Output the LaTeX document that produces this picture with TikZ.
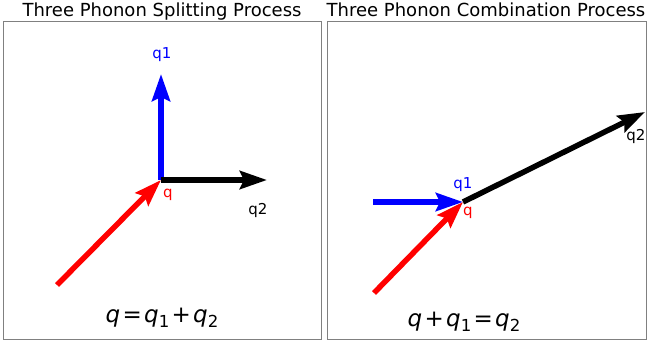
\documentclass[tikz,border=0pt]{standalone}
\usepackage{fontspec}
\setmainfont{DejaVu Sans}
\usepackage{graphicx}
\usetikzlibrary{arrows.meta}
\newcommand{\qvec}[1]{\textit{q}\raisebox{-0.22em}{\scalebox{0.72}{#1}}}
\newcommand{\op}[1]{\hspace{0.1em}#1\hspace{0.1em}}

\begin{document}
\begin{tikzpicture}[x=1pt,y=1pt,
  vec/.style={line width=5.5pt,-{Stealth[length=27pt,width=18pt,inset=4pt]}},
  lbl/.style={font=\fontsize{15}{15}\selectfont,inner sep=0pt},
  ttl/.style={font=\fontsize{18}{18}\selectfont,inner sep=0pt,anchor=base},
  eqn/.style={font=\fontsize{23}{23}\selectfont,inner sep=0pt,anchor=base},
  panel/.style={draw=black!50,line width=0.8pt}]
  \useasboundingbox (0,0) rectangle (648,346);
  % splitting
  \draw[panel] (3,7) rectangle (321,325);
  \node[ttl] (ttlA) at (162,329) {Three Phonon Splitting Process};
  \coordinate (oA) at (161,166);
  \coordinate (qA) at (57,61);
  \coordinate (q1A) at (161,272);
  \coordinate (q2A) at (267,166);
  \draw[vec,red] (qA) -- (oA);
  \draw[vec,blue] (oA) -- (q1A);
  \draw[vec] (oA) -- (q2A);
  \node[lbl,blue] (q1lblA) at (162,291) {q1};
  \node[lbl,red] (qlblA) at (168,151) {q};
  \node[lbl] (q2lblA) at (258,136) {q2};
  \node[eqn] (eqA) at (162,24) {\textit{q}\op{=}\qvec{1}\op{+}\qvec{2}};
  % combination
  \draw[panel] (327,7) rectangle (646,325);
  \node[ttl] (ttlB) at (486,329) {Three Phonon Combination Process};
  \coordinate (oB) at (463,144);
  \coordinate (q1B) at (373,144);
  \coordinate (qB) at (374,53);
  \coordinate (q2B) at (645,234);
  \draw[vec,blue] (q1B) -- (oB);
  \draw[vec,red] (qB) -- (oB);
  \draw[vec] (oB) -- (q2B);
  \node[lbl,blue] (q1lblB) at (463,161) {q1};
  \node[lbl,red] (qlblB) at (468,133) {q};
  \node[lbl] (q2lblB) at (636,210) {q2};
  \node[eqn] (eqB) at (464,20) {\textit{q}\op{+}\qvec{1}\op{=}\qvec{2}};
\end{tikzpicture}
\end{document}
